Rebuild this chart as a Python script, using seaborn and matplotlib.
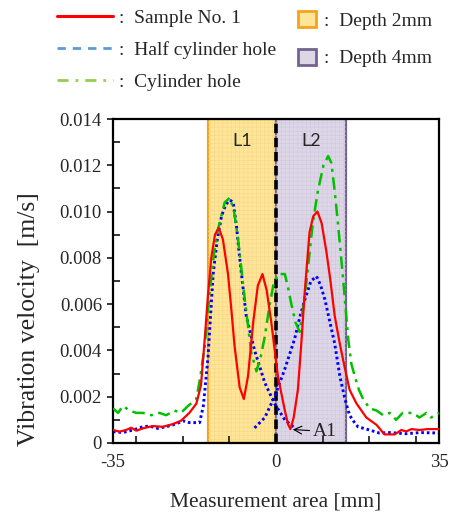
import matplotlib
matplotlib.use("Agg")
import matplotlib.pyplot as plt
from matplotlib.lines import Line2D
from matplotlib.patches import Patch
from matplotlib.ticker import FixedLocator
import seaborn as sns

# ---- measured vibration velocity profiles [m/s] along the scan line [mm] ----
sample_x = [-35, -33.6, -32.2, -31.1, -30.0, -28.6, -26.5, -24.3, -22.1, -20.4,
            -18.6, -17.1, -16.1, -15.3, -14.6, -13.9, -13.1, -12.3, -11.4, -10.3,
            -9.6, -8.9, -7.8, -6.9, -6.0, -4.9, -3.9, -2.9, -2.0, -1.0,
            0.4, 1.9, 2.6, 3.1, 3.8, 4.7, 5.4, 6.2, 7.2, 8.0,
            8.9, 9.8, 10.8, 11.7, 12.6, 13.6, 14.4, 15.8, 17.3, 19.4,
            21.6, 23.3, 25.5, 26.9, 28.0, 29.1, 30.8, 32.5, 35]
sample_v = [0.00056, 0.00049, 0.00056, 0.00066, 0.00053, 0.00063, 0.00073, 0.00070, 0.00082, 0.00096,
            0.0013, 0.0017, 0.0025, 0.0045, 0.0064, 0.0080, 0.0090, 0.0093, 0.0088, 0.0073,
            0.0058, 0.0042, 0.0024, 0.0019, 0.0029, 0.0052, 0.0068, 0.0073, 0.0066, 0.0052,
            0.0029, 0.0014, 0.0008, 0.0006, 0.0011, 0.0023, 0.0042, 0.0066, 0.0091, 0.0098,
            0.0100, 0.0095, 0.0083, 0.0070, 0.0055, 0.0044, 0.0036, 0.0023, 0.0017, 0.0011,
            0.00078, 0.00037, 0.00037, 0.00056, 0.0005, 0.0006, 0.00056, 0.0006, 0.0006]

half_left_x = [-35, -32.9, -30.7, -28.6, -27.2, -25.4, -23.6, -21.5, -20.0, -18.6,
               -16.4, -15.6, -14.6, -13.5, -12.6, -11.7, -10.8, -9.9, -9.2, -8.5,
               -7.8, -6.4, -4.6, -2.4, -0.3, 1.9, 4.0]
half_left_v = [0.00049, 0.00045, 0.00056, 0.0007, 0.00073, 0.00063, 0.0007, 0.00082, 0.00096, 0.00088,
               0.00088, 0.0016, 0.0037, 0.0073, 0.0088, 0.0098, 0.0103, 0.0105, 0.0104, 0.0094,
               0.0080, 0.0055, 0.0040, 0.0026, 0.0017, 0.0010, 0.00065]

half_right_x = [-4.6, -2.4, -0.3, 1.9, 4.0, 5.2, 6.2, 7.5, 8.7, 9.6,
                10.5, 11.6, 12.6, 13.7, 14.8, 15.8, 16.8, 17.6, 20.1, 22.2,
                24.5, 27.9, 31.0, 35]
half_right_v = [0.00065, 0.0011, 0.0020, 0.0032, 0.0045, 0.0055, 0.0062, 0.0070, 0.0072, 0.0068,
                0.0062, 0.0052, 0.0043, 0.0029, 0.0019, 0.0012, 0.0009, 0.0007, 0.00056, 0.00043,
                0.00045, 0.0004, 0.00045, 0.00043]

cyl_x = [-35, -33.9, -32.9, -31.4, -30.0, -28.6, -26.8, -25.0, -23.6, -21.8,
         -20.4, -18.9, -17.1, -16.3, -15.3, -14.2, -13.3, -12.5, -11.0, -9.9,
         -9.0, -8.2, -6.7, -5.3, -4.2, -3.3, -2.4, -1.5, -0.6, 0.4,
         1.9, 2.6, 3.3, 4.2, 5.1, 5.8, 6.5, 7.2, 7.9, 9.0,
         10.2, 11.2, 11.9, 12.6, 13.3, 14.0, 14.8, 15.5, 16.2, 16.9,
         17.8, 18.7, 20.1, 21.6, 23.0, 24.4, 25.8, 27.2, 29.4, 30.8,
         32.3, 33.3, 35]
cyl_v = [0.0015, 0.0013, 0.0016, 0.0014, 0.0013, 0.0013, 0.0012, 0.0013, 0.0012, 0.0014,
         0.0013, 0.0016, 0.0019, 0.0028, 0.0042, 0.0066, 0.0082, 0.0092, 0.0104, 0.0106,
         0.0100, 0.0089, 0.0062, 0.0039, 0.0031, 0.0037, 0.0046, 0.0058, 0.0068, 0.0073,
         0.0073, 0.0067, 0.0060, 0.0052, 0.0048, 0.0058, 0.0069, 0.0082, 0.0095, 0.0109,
         0.0120, 0.0124, 0.0121, 0.0109, 0.0095, 0.0080, 0.0062, 0.0045, 0.0034, 0.0029,
         0.0023, 0.0019, 0.0015, 0.0014, 0.0012, 0.0013, 0.0010, 0.0013, 0.0013, 0.0011,
         0.0013, 0.0011, 0.0013]

# depth zones along the scan [mm]
zone_l1 = [-14.5, 0.0]
zone_l2 = [0.0, 15.0]
zone_names = ["L1", "L2"]

series_labels = ["Sample No. 1", "Half cylinder hole", "Cylinder hole"]
zone_labels = ["Depth 2mm", "Depth 4mm"]

y_ticks = [0, 0.002, 0.004, 0.006, 0.008, 0.010, 0.012, 0.014]
y_tick_labels = ["0", "0.002", "0.004", "0.006", "0.008", "0.010", "0.012", "0.014"]
x_ticks = [-35, 0, 35]
x_tick_labels = ["-35", "0", "35"]
x_minor = [-30, -20, -10, 10, 20, 30]

sns.set_style("ticks")
plt.rcParams["font.family"] = ["Liberation Serif", "DejaVu Serif"]
plt.rcParams["hatch.linewidth"] = 0.4

fig = plt.figure(figsize=(4.58, 5.13), dpi=100)
ax = fig.add_axes([0.2467, 0.1365, 0.7118, 0.6315])

RED = "#ff0000"
BLUE = "#0000ff"
GREEN = "#00c000"

# depth zones
ax.axvspan(*zone_l1, facecolor="#ffe597", edgecolor="#f7a21b", lw=1.6, zorder=0)
ax.axvspan(*zone_l1, facecolor="none", edgecolor="#f5d888", lw=0, hatch="++++", zorder=0.5)
ax.axvspan(*zone_l2, facecolor="#ddd6e7", edgecolor="#73638f", lw=1.6, zorder=0)
ax.axvspan(*zone_l2, facecolor="none", edgecolor="#d0c9dc", lw=0, hatch="++++", zorder=0.5)
ax.axvline(0, color="black", lw=2.6, linestyle=(0, (2.6, 1.3)), zorder=1)

# profiles
sns.lineplot(x=half_left_x, y=half_left_v, ax=ax, color=BLUE, lw=2.1,
             linestyle=(0, (0.9, 1.0)), sort=False, estimator=None, zorder=2)
sns.lineplot(x=half_right_x, y=half_right_v, ax=ax, color=BLUE, lw=2.1,
             linestyle=(0, (0.9, 1.0)), sort=False, estimator=None, zorder=2)
sns.lineplot(x=cyl_x, y=cyl_v, ax=ax, color=GREEN, lw=1.8,
             linestyle=(0, (5, 2.2, 1.2, 2.2)), sort=False, estimator=None, zorder=3)
sns.lineplot(x=sample_x, y=sample_v, ax=ax, color=RED, lw=1.6,
             sort=False, estimator=None, zorder=4)

# zone names
for name, zone in zip(zone_names, [zone_l1, zone_l2]):
    ax.text((zone[0] + zone[1]) / 2, 0.01306, name, ha="center", va="center",
            fontsize=13, family=["Lato", "DejaVu Sans"], zorder=5)

# minimum of the sample profile
ax.annotate("A1", xy=(3.6, 0.00058), xytext=(7.9, 0.00050),
            fontsize=14, va="center", ha="left",
            arrowprops=dict(arrowstyle="->", lw=0.8, color="black", shrinkA=0, shrinkB=0),
            zorder=6)

ax.set_xlim(-35, 35)
ax.set_ylim(0, 0.014)
ax.set_xticks(x_ticks)
ax.set_xticklabels(x_tick_labels, fontsize=13.5)
ax.xaxis.set_minor_locator(FixedLocator(x_minor))
ax.set_yticks(y_ticks)
ax.set_yticklabels(y_tick_labels, fontsize=13.5)
ax.yaxis.set_minor_locator(FixedLocator([0.001, 0.003, 0.005, 0.007, 0.009, 0.011, 0.013]))
ax.tick_params(axis="x", which="major", length=0, pad=8)
ax.tick_params(axis="x", which="minor", direction="in", length=5, width=1.3, top=False)
ax.tick_params(axis="y", which="major", direction="out", length=4, width=1.3, pad=4)
ax.tick_params(axis="y", which="minor", direction="in", length=5, width=1.3, right=False)
for sp in ax.spines.values():
    sp.set_linewidth(1.6)
    sp.set_color("black")
    sp.set_visible(True)

ax.set_xlabel("Measurement area [mm]", fontsize=15.5)
ax.set_ylabel("Vibration velocity  [m/s]", fontsize=18.5)
ax.xaxis.set_label_coords(0.5, -0.152)
ax.yaxis.set_label_coords(-0.225, 0.383)

# legends above the axes
line_handles = [
    Line2D([], [], color=RED, lw=2.2),
    Line2D([], [], color="#5b9bd5", lw=2.0, linestyle=(0, (3, 2.5))),
    Line2D([], [], color="#92d050", lw=2.0, linestyle=(0, (4, 2.5, 1, 2.5))),
]
fig.legend(line_handles, [":  " + s for s in series_labels],
           loc="upper left", bbox_to_anchor=(57 / 458, 0.982),
           frameon=False, fontsize=14, handlelength=2.9, handletextpad=0.3,
           labelspacing=0.73, borderpad=0, borderaxespad=0)
zone_handles = [
    Patch(facecolor="#ffe597", edgecolor="#f7a21b", lw=2),
    Patch(facecolor="#ddd6e7", edgecolor="#73638f", lw=2),
]
fig.legend(zone_handles, [":  " + s for s in zone_labels],
           loc="upper left", bbox_to_anchor=(298 / 458, 0.978),
           frameon=False, fontsize=14, handlelength=0.9, handleheight=0.9,
           handletextpad=0.45, labelspacing=0.95, borderpad=0, borderaxespad=0)

fig.savefig("out.png", dpi=100)
